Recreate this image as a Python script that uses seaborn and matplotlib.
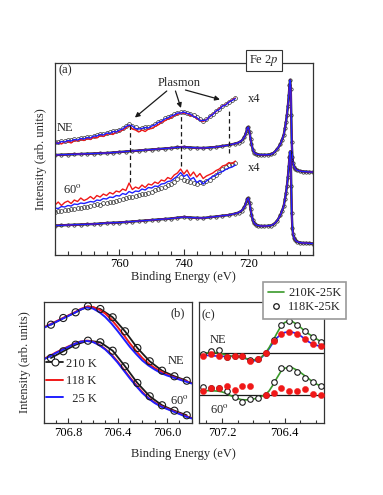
import numpy as np
import matplotlib
matplotlib.use("Agg")
import matplotlib.pyplot as plt
from matplotlib.lines import Line2D
from matplotlib.ticker import MultipleLocator, FixedLocator, FormatStrFormatter
import seaborn as sns

# ---- panel (a): Fe 2p wide scan ----
e_main = [780, 778, 776, 774, 772, 770, 768, 766, 764, 762,
          760, 758, 756, 754, 752, 750, 748, 746, 744, 742,
          740, 738, 736, 734, 732, 730, 728, 726, 724, 723,
          722, 721.2, 720.7, 720.3, 720.0, 719.6, 719.3, 719.0, 718.6, 718.2,
          717.7, 717, 716, 715, 714, 713, 712, 711, 710, 709.5,
          709, 708.6, 708.3, 708.0, 707.7, 707.4, 707.2, 707.0, 706.8, 706.65,
          706.5, 706.3, 706.1, 705.8, 705.4, 705, 704, 703, 702, 701,
          700]
ne_main = [100, 100.3, 100.5, 100.8, 101, 101.3, 101.5, 101.8, 102, 102.5,
           103, 103.5, 104, 104.5, 105, 105.5, 106, 106.5, 107, 107.7,
           108, 107.5, 107.2, 107, 107.5, 108, 109, 110, 111.5, 112.5,
           114.5, 118, 122, 127, 128, 123, 116.5, 111, 105.5, 102.5,
           101.3, 100.5, 100.2, 100.2, 100.3, 100.6, 102.5, 106, 111, 115.5,
           120, 127, 133, 140, 149, 160, 170, 175, 166, 140,
           113, 98, 92, 88.5, 86.3, 85, 84, 83.5, 83.3, 83,
           83]
sixty_main = [29.5, 29.7, 30, 30.3, 30.5, 30.8, 31, 31.5, 32, 32.3,
              32.5, 33, 33.5, 34, 34.5, 35, 35.5, 36, 36.5, 37.3,
              38, 37.5, 37.2, 37, 37.8, 38.5, 39.3, 40, 41.5, 42.5,
              44.5, 48, 52, 56, 57, 52.5, 46, 40.5, 35, 32,
              30.5, 29.5, 29, 29, 29.2, 29.5, 31, 34.5, 40, 44.5,
              49, 56, 62, 69, 78, 89, 98.5, 103.5, 95, 69,
              42, 27, 21, 17.5, 15, 13.5, 12.5, 12, 12, 11.7,
              11.5]

# x4 magnified plasmon region, 1 eV steps from 780 to 724 eV
e_x4 = list(range(780, 723, -1))
ne_x4_210 = [113.5, 113, 114.5, 114, 115.5, 115, 116.5, 116, 117, 117.5,
             118, 118.5, 119.5, 120, 121, 121, 122.5, 123, 124, 124,
             125.5, 127, 129, 131.5, 129.5, 128.5, 126.5, 127.5, 128, 128.5,
             129.5, 131, 133, 134.5, 137, 138, 139.5, 141, 142.5, 143,
             143.5, 142.5, 141.5, 140, 138, 136, 134.5, 136.5, 139, 141.5,
             144.5, 146.5, 149.5, 151, 153.5, 155.5, 157.5]
ne_x4_118 = [111, 112.5, 111, 113, 113.5, 112, 114.5, 114, 115.5, 114.5,
             116.5, 115.5, 118, 117, 119.5, 118.5, 120.5, 121.5, 120.5, 123,
             123.5, 125, 127, 130, 126, 125, 123, 125, 123.5, 126,
             126.5, 128.5, 130, 132.5, 134, 136, 137, 139.5, 140.5, 142,
             142, 141.5, 139.5, 139, 136.5, 135, 133.5, 135.5, 138, 141,
             143.5, 146.5, 149, 150.5, 153, 155, 157]
ne_x4_25 = [112.5, 111.5, 113.5, 113, 114.5, 114, 115.5, 115, 116.5, 116,
            117.5, 117, 119, 119, 120.5, 120, 122, 121.5, 123.5, 123,
            125, 126, 128.5, 130, 129, 126.5, 126, 126.5, 127.5, 127,
            129, 130, 132.5, 133.5, 136, 137, 139, 140, 142, 142,
            143, 141.5, 141, 138.5, 137.5, 134.5, 134.5, 135, 138.5, 140.5,
            144, 145.5, 149, 150, 153, 154.5, 156.5]
sixty_x4_210 = [43.5, 44.5, 44, 45.5, 45, 46.5, 46, 47.5, 47, 48.5,
                48, 49.5, 50, 51, 50.5, 52, 52.5, 53.5, 53, 54.5,
                55, 56, 57, 58.5, 58, 59.5, 60, 61, 61.5, 62.5,
                63.5, 65, 66, 67.5, 68.5, 70, 71.5, 73.5, 76, 78,
                75.5, 74, 73, 72.5, 71.5, 73, 72, 74, 75.5, 78,
                80.5, 83, 86, 88, 90, 91, 92]
sixty_x4_118 = [50, 53, 49.5, 52.5, 54, 51.5, 55, 53.5, 57, 54.5,
                56, 58.5, 56, 59.5, 58, 61, 59.5, 62.5, 61, 64,
                63, 66, 64.5, 72, 65.5, 68, 66.5, 70, 67.5, 71,
                70, 73, 71.5, 75, 74, 77.5, 76, 80, 82, 86,
                81, 85, 79, 83, 78, 81.5, 76.5, 79, 80.5, 82,
                84.5, 86, 89, 90, 92.5, 91.5, 94]
sixty_x4_25 = [47, 46.5, 48.5, 48, 49.5, 49, 51, 50.5, 52, 51.5,
               52.5, 53.5, 53, 55, 54.5, 56.5, 56, 58, 57.5, 59.5,
               59, 61.5, 60.5, 63.5, 62, 64, 63.5, 66, 65, 67.5,
               67, 69, 68.5, 71, 71.5, 73.5, 74, 76.5, 79, 82.5,
               78.5, 80.5, 75.5, 77.5, 72.5, 74.5, 71, 74, 76.5, 78.5,
               80, 82.5, 83.5, 85.5, 87, 88, 90]

plasmon_e = [756.7, 741.0, 726.0]
plasmon_top = [130, 141, 145]
plasmon_bottom = [73, 89, 102]
a_ticks = [760, 740, 720]

# ---- panel (b): 2p3/2 edge, three temperatures ----
e_b_pts = [706.94, 706.84, 706.74, 706.64, 706.54, 706.44,
           706.34, 706.24, 706.14, 706.04, 705.94, 705.84]
b_ne_210 = [98.3, 105, 110.7, 116.7, 114, 105.7, 91.7, 75, 61.7, 52.3, 46.7, 42.3]
b_60_210 = [65, 71.7, 78.3, 82.3, 80.7, 72.3, 56.7, 40, 26.7, 17.7, 12.3, 7.7]
e_b_line = [707.00, 706.95, 706.90, 706.85, 706.80, 706.75, 706.70, 706.65,
            706.60, 706.55, 706.50, 706.45, 706.40, 706.35, 706.30, 706.25,
            706.20, 706.15, 706.10, 706.05, 706.00, 705.95, 705.90, 705.85, 705.80]
b_ne_118 = [95.5, 98.5, 101.5, 104.5, 107.5, 110.5, 114, 116.3, 116, 113.5,
            109.5, 103.5, 96, 88, 79.5, 72, 65, 59.5, 55, 51.5, 48.5, 46, 44, 42, 40]
b_ne_25 = [95, 98, 101, 104, 107, 110, 113.5, 115.5, 114.5, 111,
           106, 99.5, 92, 84, 76, 69, 62.5, 57.5, 53.5, 50, 47.5, 45.5, 43.5, 41.5, 39.5]
b_60_118 = [64, 67, 70.5, 73.5, 76.5, 79.3, 81.5, 82.3, 81.3, 78.5,
            74, 68.5, 61.5, 53.5, 45.5, 38, 31, 25, 20.5, 17, 14.5, 12, 9.5, 7, 5]
b_60_25 = [63.5, 66.5, 70, 73, 76, 79, 81.3, 82, 81, 78,
           73.5, 67.5, 60.5, 52.5, 44.5, 37, 30, 24.5, 20, 16.5, 14, 11.5, 9, 6.5, 4.5]

# ---- panel (c): difference spectra ----
e_c_pts = [707.44, 707.34, 707.24, 707.14, 707.04, 706.94, 706.84, 706.74,
           706.64, 706.54, 706.44, 706.34, 706.24, 706.14, 706.04, 705.94]
c_ne_open = [69.5, 72.3, 73.5, 66.5, 67.5, 67, 63, 64, 70.5, 83.3, 99, 102.7, 99, 92.3, 86.7, 81.7]
c_ne_red = [67.7, 69, 67.7, 66.3, 67.3, 67.3, 62.3, 64, 70.3, 82.3, 90, 91.7, 90, 84, 79.3, 77.3]
c_60_open = [35.7, 35, 35, 31.7, 25.7, 21, 24.3, 25, 27.7, 41, 55.3, 55.7, 51.7, 45.7, 41, 36.7]
c_60_red = [31.7, 35, 35, 37.7, 33.3, 37.3, 37.3, np.nan, 27.7, 29.7, 35, 31.7, 32.3, 34, 29, 27.7]
e_c_line = [707.50, 707.45, 707.40, 707.35, 707.30, 707.25, 707.20, 707.15, 707.10,
            707.05, 707.00, 706.95, 706.90, 706.85, 706.80, 706.75, 706.70, 706.65,
            706.60, 706.55, 706.50, 706.45, 706.40, 706.35, 706.30, 706.25, 706.20,
            706.15, 706.10, 706.05, 706.00, 705.95, 705.90]
c_ne_green = [69.5, 70, 70.5, 71, 71, 70.5, 69.5, 68.5, 67.5, 67, 66.5, 66, 65,
              64, 63.5, 64, 66, 70, 75.5, 82.5, 90, 97, 101, 102.5, 102, 99.5,
              96.5, 93, 90, 87.5, 85, 82.5, 80.5]
c_ne_blue = [68.5, 68.3, 68, 67.8, 67.5, 67.3, 67, 67, 67, 67, 66.8, 66.5, 65,
             63.5, 62.5, 63, 65.5, 69.5, 74.5, 80.5, 85.5, 89, 91, 91.7, 91.3, 90,
             88, 85, 82, 79.8, 78.3, 77.3, 76.5]
c_60_green = [32.5, 32.5, 32.5, 32.5, 32.3, 32, 31.3, 30, 28, 26, 24.5, 23.5, 23.2,
              23.5, 24, 25, 26.5, 28.5, 32, 38, 45, 51.5, 55, 56, 55.5, 53.5,
              51, 48, 45, 42, 39.5, 37.5, 36]
c_zero = [70, 27.7]

RED = "#f01818"
BLUE = "#1f1fff"
BLK = "#1a1a1a"
GREEN = "#3a9a2a"

sns.set_style("ticks")
plt.rcParams["font.family"] = ["Liberation Serif", "DejaVu Serif"]
plt.rcParams["mathtext.fontset"] = "stix"
plt.rcParams["font.size"] = 9
plt.rcParams["axes.edgecolor"] = "#333333"
plt.rcParams["axes.linewidth"] = 0.9
plt.rcParams["xtick.direction"] = "in"
plt.rcParams["xtick.color"] = "#333333"
plt.rcParams["xtick.labelcolor"] = "black"

fig = plt.figure(figsize=(3.83, 4.95), dpi=100)
ax_a = fig.add_axes([0.1436, 0.4848, 0.6728, 0.3889])
ax_b = fig.add_axes([0.1136, 0.1455, 0.3869, 0.2444])
ax_c = fig.add_axes([0.5183, 0.1455, 0.3269, 0.2444])


# (a)
for main in (ne_main, sixty_main):
    sns.lineplot(x=e_main, y=main, ax=ax_a, color=BLK, lw=1.7, marker="o", ms=2.4,
                 mfc="none", mec=BLK, mew=0.5, sort=False)
    sns.lineplot(x=e_main, y=main, ax=ax_a, color=RED, lw=1.0, sort=False)
    sns.lineplot(x=e_main, y=main, ax=ax_a, color=BLUE, lw=1.0, sort=False)
for k210, k118, k25 in ((ne_x4_210, ne_x4_118, ne_x4_25),
                        (sixty_x4_210, sixty_x4_118, sixty_x4_25)):
    sns.lineplot(x=e_x4, y=k210, ax=ax_a, color=BLK, lw=0.0, marker="o", ms=2.8,
                 mfc="none", mec="#333333", mew=0.5, sort=False)
    sns.lineplot(x=e_x4, y=k118, ax=ax_a, color=RED, lw=1.0, sort=False)
    sns.lineplot(x=e_x4, y=k25, ax=ax_a, color=BLUE, lw=1.0, sort=False)

for e, y0, y1 in zip(plasmon_e, plasmon_bottom, plasmon_top):
    ax_a.plot([e, e], [y0, y1], color=BLK, lw=0.9, ls=(0, (3.5, 2.5)))

ax_a.text(741.5, 172.5, "Plasmon", ha="center", va="center")
for tail, tip in (((745.3, 164), (755.2, 137.5)),
                  ((742.6, 164), (740.9, 147)),
                  ((739.5, 165), (728.8, 155.5))):
    ax_a.annotate("", xy=tip, xytext=tail,
                  arrowprops=dict(arrowstyle="-|>", color=BLK, lw=0.9,
                                  mutation_scale=7, shrinkA=0, shrinkB=0))
ax_a.text(720.2, 156.5, "x4", ha="left", va="center")
ax_a.text(720.2, 87, "x4", ha="left", va="center")
ax_a.text(779.4, 127, "NE", ha="left", va="center")
ax_a.text(777.6, 66, r"60$^{\rm o}$", ha="left", va="center")
ax_a.text(0.012, 0.962, "(a)", transform=ax_a.transAxes, ha="left", va="center")

ax_a.set_xlim(780, 700)
ax_a.set_ylim(0, 192.5)
ax_a.xaxis.set_major_locator(FixedLocator(a_ticks))
ax_a.xaxis.set_minor_locator(MultipleLocator(4))
ax_a.tick_params(axis="x", which="major", length=4.5, width=0.8, pad=2.5)
ax_a.tick_params(axis="x", which="minor", length=2.8, width=0.8)
ax_a.set_yticks([])
ax_a.set_xlabel("Binding Energy (eV)")
ax_a.set_ylabel("Intensity (arb. units)")
ax_a.xaxis.set_label_coords(0.5, -0.085)
ax_a.yaxis.set_label_coords(-0.03, 0.5)

fig.text(264 / 383, 1 - 60.5 / 495, "Fe 2$p$", ha="center", va="center",
         bbox=dict(boxstyle="square,pad=0.25", fc="white", ec="#333333", lw=0.8))

# (b)
for pts, l118, l25 in ((b_ne_210, b_ne_118, b_ne_25), (b_60_210, b_60_118, b_60_25)):
    sns.lineplot(x=e_b_pts, y=pts, ax=ax_b, color=BLK, lw=1.3, sort=False)
    sns.lineplot(x=e_b_line, y=l118, ax=ax_b, color=RED, lw=1.4, sort=False)
    sns.lineplot(x=e_b_line, y=l25, ax=ax_b, color=BLUE, lw=1.4, sort=False)
    sns.scatterplot(x=e_b_pts, y=pts, ax=ax_b, s=26, facecolor="none",
                    edgecolor=BLK, linewidth=0.8, zorder=5)

ax_b.set_xlim(707.0, 705.8)
ax_b.set_ylim(0, 121)
ax_b.xaxis.set_major_locator(MultipleLocator(0.4))
ax_b.xaxis.set_minor_locator(MultipleLocator(0.1))
ax_b.xaxis.set_major_formatter(FormatStrFormatter("%.1f"))
ax_b.tick_params(axis="x", which="major", length=3.5, width=0.8, pad=3)
ax_b.tick_params(axis="x", which="minor", length=2.2, width=0.8)
ax_b.set_yticks([])
ax_b.set_ylabel("Intensity (arb. units)")
ax_b.yaxis.set_label_coords(-0.085, 0.5)
ax_b.text(0.905, 0.91, "(b)", transform=ax_b.transAxes, ha="center", va="center")
ax_b.text(0.895, 0.51, "NE", transform=ax_b.transAxes, ha="center", va="center")
ax_b.text(0.92, 0.185, r"60$^{\rm o}$", transform=ax_b.transAxes, ha="center", va="center")

leg_b = [Line2D([], [], color=BLK, lw=1.3, marker="o", ms=5, mfc="white", mec=BLK, mew=0.8),
         Line2D([], [], color=RED, lw=1.4),
         Line2D([], [], color=BLUE, lw=1.4)]
ax_b.legend(leg_b, ["210 K", "118 K", "  25 K"], loc="center left",
            bbox_to_anchor=(0.02, 0.345), frameon=False, borderpad=0,
            borderaxespad=0, handlelength=1.3, handletextpad=0.25,
            labelspacing=0.45)

# (c)
for z in c_zero:
    ax_c.axhline(z, color=BLK, lw=0.9)
sns.lineplot(x=e_c_line, y=c_ne_blue, ax=ax_c, color=BLUE, lw=1.2, sort=False)
sns.lineplot(x=e_c_line, y=c_ne_green, ax=ax_c, color=GREEN, lw=1.2, sort=False)
sns.lineplot(x=e_c_line, y=c_60_green, ax=ax_c, color=GREEN, lw=1.2, sort=False)
for opn, red in ((c_ne_open, c_ne_red), (c_60_open, c_60_red)):
    sns.scatterplot(x=e_c_pts, y=opn, ax=ax_c, s=16, facecolor="white",
                    edgecolor=BLK, linewidth=0.8, zorder=5)
    sns.scatterplot(x=e_c_pts, y=red, ax=ax_c, s=20, color=RED,
                    edgecolor=RED, linewidth=0.3, zorder=6)

ax_c.set_xlim(707.5, 705.9)
ax_c.set_ylim(0, 121.7)
ax_c.xaxis.set_major_locator(MultipleLocator(0.8))
ax_c.xaxis.set_minor_locator(MultipleLocator(0.2))
ax_c.xaxis.set_major_formatter(FormatStrFormatter("%.1f"))
ax_c.tick_params(axis="x", which="major", length=3.5, width=0.8, pad=3)
ax_c.tick_params(axis="x", which="minor", length=2.2, width=0.8)
ax_c.set_yticks([])
ax_c.text(0.02, 0.89, "(c)", transform=ax_c.transAxes, ha="left", va="center")
ax_c.text(0.092, 0.684, "NE", transform=ax_c.transAxes, ha="left", va="center")
ax_c.text(0.092, 0.11, r"60$^{\rm o}$", transform=ax_c.transAxes, ha="left", va="center")

leg_c = [Line2D([], [], color=GREEN, lw=1.2),
         Line2D([], [], ls="none", marker="o", ms=4, mfc="white", mec=BLK, mew=0.9)]
lg = ax_c.legend(leg_c, ["210K-25K", "118K-25K"], loc="upper left",
                 bbox_to_anchor=(263 / 383, 1 - 282 / 495),
                 bbox_transform=fig.transFigure, borderaxespad=0,
                 fancybox=False, framealpha=1, edgecolor="#9a9a9a",
                 borderpad=0.4, handlelength=1.3, handletextpad=0.3,
                 labelspacing=0.2)
lg.get_frame().set_linewidth(1.2)

fig.text(183.6 / 383, 1 - 454 / 495, "Binding Energy (eV)", ha="center", va="center")

fig.savefig("out.png", dpi=100)
